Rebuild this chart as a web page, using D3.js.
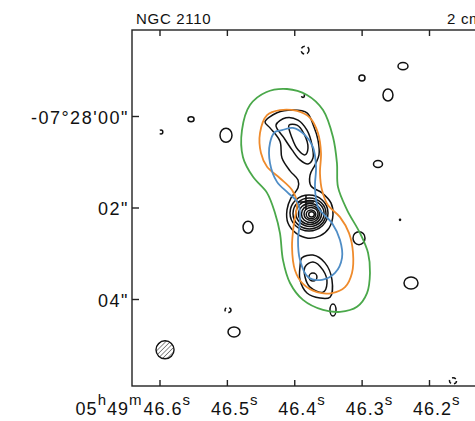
<!DOCTYPE html>
<html><head><meta charset="utf-8">
<script src="https://cdn.jsdelivr.net/npm/d3@7"></script>
<style>
html,body{margin:0;padding:0;background:#fff;}
svg text{font-family:"Liberation Sans",Arial,Helvetica,sans-serif;fill:#111;}
</style></head>
<body>
<svg id="chart" width="475" height="421"></svg>
<script>
// ---- axis ticks (RA seconds of 05h49m, Dec arcsec below -07°28'00")
const raTicks = [46.6, 46.5, 46.4, 46.3, 46.2];
const raTickLabels = ["46.6", "46.5", "46.4", "46.3", "46.2"];
const decTicks = [0, 2, 4];
const decTickLabels = ["-07°28'00\"", "02\"", "04\""];

// ---- contours: [RA (s), Dec offset (arcsec)]
const greenContour = [[46.4657,-0.24],[46.4776,0.31],[46.4761,0.90],[46.4612,1.33],[46.4404,1.68],[46.4286,2.12],[46.4212,2.56],[46.4167,3.15],[46.4063,3.65],[46.3870,4.02],[46.3573,4.24],[46.3321,4.28],[46.3069,4.17],[46.2920,3.87],[46.2876,3.43],[46.2905,2.99],[46.3024,2.56],[46.3217,2.05],[46.3351,1.55],[46.3366,1.03],[46.3425,0.46],[46.3573,-0.13],[46.3811,-0.46],[46.4108,-0.59],[46.4419,-0.52]];
const orangeContour = [[46.4404,-0.02],[46.4508,0.37],[46.4494,0.81],[46.4404,1.11],[46.4212,1.36],[46.4033,1.62],[46.3959,1.90],[46.4004,2.34],[46.4033,2.86],[46.3989,3.37],[46.3870,3.67],[46.3662,3.85],[46.3440,3.87],[46.3247,3.74],[46.3143,3.43],[46.3128,2.99],[46.3187,2.56],[46.3321,2.21],[46.3499,1.95],[46.3588,1.62],[46.3618,1.25],[46.3603,0.81],[46.3648,0.37],[46.3766,0.04],[46.3959,-0.11],[46.4212,-0.13]];
const blueContour = [[46.4182,0.31],[46.4019,0.26],[46.3840,0.42],[46.3722,0.68],[46.3677,1.11],[46.3692,1.55],[46.3648,1.99],[46.3440,2.34],[46.3321,2.71],[46.3291,3.10],[46.3395,3.43],[46.3588,3.58],[46.3796,3.52],[46.3915,3.15],[46.3944,2.71],[46.3915,2.27],[46.3944,1.90],[46.4093,1.68],[46.4256,1.44],[46.4360,1.03],[46.4360,0.59],[46.4286,0.35]];
const blackOuter = [[46.4434,0.13],[46.4256,-0.07],[46.4019,-0.13],[46.3811,-0.07],[46.3707,0.24],[46.3648,0.52],[46.3633,0.85],[46.3692,1.07],[46.3766,1.29],[46.3751,1.53],[46.3588,1.68],[46.3455,1.90],[46.3425,2.16],[46.3484,2.45],[46.3618,2.62],[46.3796,2.67],[46.3974,2.56],[46.4093,2.34],[46.4108,2.05],[46.4048,1.79],[46.3944,1.57],[46.3944,1.40],[46.4063,1.20],[46.4182,0.92],[46.4212,0.55],[46.4360,0.26]];
const blackNorthMid = [[46.4271,0.20],[46.4122,0.04],[46.3944,0.09],[46.3811,0.31],[46.3737,0.63],[46.3722,0.92],[46.3796,1.05],[46.3915,0.96],[46.4033,0.74],[46.4152,0.48]];
const blackNorthInner = [[46.4078,0.20],[46.3959,0.20],[46.3855,0.39],[46.3796,0.70],[46.3840,0.85],[46.3944,0.74],[46.4033,0.48]];
const blackSouthOuter = [[46.3885,3.10],[46.3722,3.04],[46.3544,3.21],[46.3440,3.58],[46.3469,3.96],[46.3618,3.98],[46.3811,3.87],[46.3915,3.58],[46.3915,3.30]];
const blackSouthMid = [[46.3840,3.30],[46.3722,3.19],[46.3573,3.37],[46.3514,3.65],[46.3573,3.85],[46.3766,3.74],[46.3840,3.52]];

// ---- elliptical contours: [RA, Dec, semi-axis RA (s), semi-axis Dec (arcsec)]
const coreRings = [[46.3781,2.12,0.0282,0.393],[46.3774,2.13,0.0245,0.339],[46.3766,2.13,0.0208,0.284],[46.3766,2.14,0.0171,0.230],[46.3759,2.14,0.0134,0.186],[46.3751,2.14,0.0104,0.142],[46.3751,2.15,0.0071,0.098],[46.3744,2.15,0.0042,0.057]];
const southCore = [[46.3722,3.52,0.0059,0.087]];
// noise blobs: [RA, Dec, aRA, aDec, negative(1)/positive(0)]
const noiseBlobs = [[46.3840,-1.44,0.0059,0.087,1],[46.2995,-0.83,0.0045,0.066,0],[46.2386,-1.09,0.0074,0.077,0],[46.2609,-0.46,0.0074,0.131,0],[46.5532,0.07,0.0045,0.055,0],[46.5013,0.42,0.0089,0.153,0],[46.2757,1.05,0.0067,0.077,0],[46.3039,2.67,0.0089,0.142,0],[46.2267,3.65,0.0104,0.131,0],[46.4686,2.43,0.0074,0.131,0],[46.3425,4.24,0.0045,0.131,0],[46.4983,4.24,0.0045,0.055,1],[46.4894,4.72,0.0089,0.109,0],[46.1644,5.79,0.0052,0.066,1],[46.5978,0.35,0.0027,0.044,1],[46.3870,-0.44,0.0022,0.033,1]];
const noiseDots = [[46.2430,2.27]];
const beam = [[46.5918,5.11,0.0134,0.197]];
const nucleus = [[46.3826,1.88]];

// ---- scales
const x = d3.scaleLinear().domain([46.6, 46.2]).range([159.5, 429]);
const y = d3.scaleLinear().domain([0, 4]).range([116, 299]);
const frame = {left: 132, top: 30, right: 495, bottom: 386};

const svg = d3.select("#chart");
const defs = svg.append("defs");
defs.append("clipPath").attr("id","clip").append("rect")
  .attr("x",frame.left).attr("y",frame.top)
  .attr("width",frame.right-frame.left).attr("height",frame.bottom-frame.top);
const pat = defs.append("pattern").attr("id","hatch").attr("patternUnits","userSpaceOnUse")
  .attr("width",3.2).attr("height",3.2).attr("patternTransform","rotate(45)");
pat.append("line").attr("x1",0).attr("y1",0).attr("x2",0).attr("y2",3.2)
  .attr("stroke","#222").attr("stroke-width",1);

const plot = svg.append("g").attr("clip-path","url(#clip)");

const line = d3.line().x(d=>x(d[0])).y(d=>y(d[1])).curve(d3.curveCatmullRomClosed.alpha(0.5));
const ell = (sel) => sel
  .attr("cx", d=>x(d[0])).attr("cy", d=>y(d[1]))
  .attr("rx", d=>Math.abs(x(d[0]+d[2])-x(d[0])))
  .attr("ry", d=>Math.abs(y(d[1]+d[3])-y(d[1])));

// black contours
const blk = plot.append("g").attr("fill","none").attr("stroke","#111").attr("stroke-width",1.5);
blk.selectAll("path.b").data([blackOuter, blackNorthMid, blackNorthInner, blackSouthOuter, blackSouthMid])
  .join("path").attr("class","b").attr("d", line);
blk.selectAll("ellipse.core").data(coreRings.concat(southCore)).join("ellipse").attr("class","core").call(ell);
blk.selectAll("ellipse.noise").data(noiseBlobs).join("ellipse").attr("class","noise").call(ell)
  .attr("stroke-dasharray", d=>d[4] ? "4,3" : null);
plot.selectAll("circle.dot").data(noiseDots).join("circle").attr("class","dot")
  .attr("cx",d=>x(d[0])).attr("cy",d=>y(d[1])).attr("r",1.3).attr("fill","#111");

// beam
plot.selectAll("ellipse.beam").data(beam).join("ellipse").attr("class","beam").call(ell)
  .attr("fill","url(#hatch)").attr("stroke","#111").attr("stroke-width",1.4);

// coloured contours
const col = plot.append("g").attr("fill","none").attr("stroke-width",1.8);
col.append("path").datum(greenContour).attr("d",line).attr("stroke","#4aa84a");
col.append("path").datum(orangeContour).attr("d",line).attr("stroke","#ef8b2c");
col.append("path").datum(blueContour).attr("d",line).attr("stroke","#4f8dc6");

// nucleus cross
const cr = plot.selectAll("g.cross").data(nucleus).join("g").attr("class","cross")
  .attr("transform", d=>`translate(${x(d[0])},${y(d[1])})`).attr("stroke","#111").attr("stroke-width",1.6);
cr.append("line").attr("x1",-8).attr("x2",8).attr("y1",0).attr("y2",0);
cr.append("line").attr("x1",0).attr("x2",0).attr("y1",-7).attr("y2",8);

// frame
svg.append("rect").attr("x",frame.left).attr("y",frame.top)
  .attr("width",frame.right-frame.left).attr("height",frame.bottom-frame.top)
  .attr("fill","none").attr("stroke","#222").attr("stroke-width",1.4);

// axes (inward ticks)
const bottomAxis = d3.axisBottom(x).tickValues(raTicks).tickSizeInner(-6).tickSizeOuter(0).tickFormat("");
const topAxis = d3.axisTop(x).tickValues(raTicks).tickSizeInner(-6).tickSizeOuter(0).tickFormat("");
const leftAxis = d3.axisLeft(y).tickValues(decTicks).tickSizeInner(-7).tickSizeOuter(0).tickFormat("");
[[bottomAxis,`translate(0,${frame.bottom})`],[topAxis,`translate(0,${frame.top})`],[leftAxis,`translate(${frame.left},0)`]]
  .forEach(([ax,tr])=>{
    const g = svg.append("g").attr("transform",tr).call(ax);
    g.select(".domain").remove();
    g.selectAll(".tick line").attr("stroke","#222").attr("stroke-width",1.4);
  });

// RA labels
const raG = svg.append("g").attr("font-size",18).attr("letter-spacing",1);
raTicks.forEach((t,i)=>{
  const tx = raG.append("text").attr("x", x(t)-16).attr("y", 415);
  tx.append("tspan").text(raTickLabels[i]);
  tx.append("tspan").attr("font-size",15).attr("dy",-10).text("s");
});
const pre = raG.append("text").attr("x", x(raTicks[0])-17).attr("y",415).attr("text-anchor","end");
pre.append("tspan").text("05");
pre.append("tspan").attr("font-size",15).attr("dy",-10).text("h");
pre.append("tspan").attr("dy",10).text("49");
pre.append("tspan").attr("font-size",15).attr("dy",-10).text("m");

// Dec labels
svg.append("g").attr("font-size",18).attr("letter-spacing",1.5).attr("text-anchor","end")
  .selectAll("text").data(decTicks).join("text")
  .attr("x",129).attr("y",d=>y(d)+7.5).text((d,i)=>decTickLabels[i]);

// titles
svg.append("text").attr("x",136).attr("y",24).attr("font-size",15).attr("letter-spacing",0.7).text("NGC 2110");
svg.append("text").attr("x",447).attr("y",24).attr("font-size",15).attr("letter-spacing",0.7).text("2 cm");
</script>
</body></html>
